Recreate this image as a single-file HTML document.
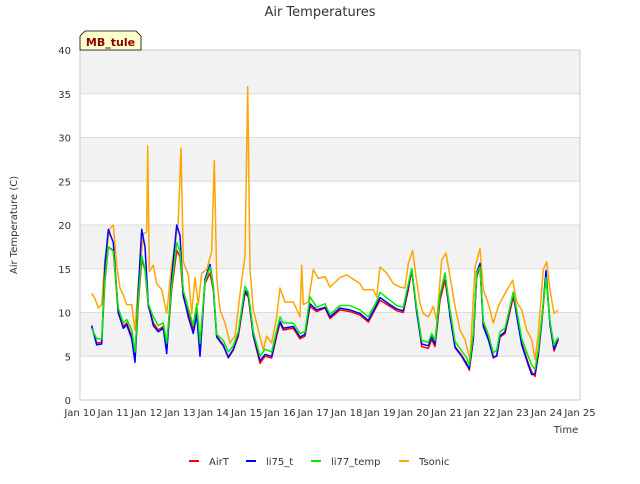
<!DOCTYPE html>
<html><head><meta charset="utf-8"><style>
body{margin:0;background:#fff;font-family:"DejaVu Sans","Liberation Sans",sans-serif}
svg text{font-family:"DejaVu Sans","Liberation Sans",sans-serif}
</style></head><body>
<svg id="chart" width="640" height="480" viewBox="0 0 640 480" xmlns="http://www.w3.org/2000/svg">
<rect width="640" height="480" fill="#fff"/>
<text x="320" y="16" text-anchor="middle" font-size="13" fill="#333">Air Temperatures</text>
<g id="bands"></g>
<g id="grid"></g>
<rect x="80" y="50" width="500" height="350" fill="none" stroke="#ccc" stroke-width="1"/>
<g id="series"></g>
<g id="axes"></g>
<text transform="translate(17,225) rotate(-90)" text-anchor="middle" font-size="10" fill="#333">Air Temperature (C)</text>
<text x="566" y="433" text-anchor="middle" font-size="10" fill="#333">Time</text>
<g>
<path d="M80,50 L80,36 L85,31 L136,31 L141,36 L141,50 Z" fill="#ffffcc" stroke="#000" stroke-width="0.8"/>
<text x="110.5" y="46" text-anchor="middle" font-size="11" font-weight="bold" fill="#8b0000">MB_tule</text>
</g>
<g id="legend"></g>
</svg>
<script>
const times = [0.35,0.5,0.65,0.75,0.85,1.0,1.15,1.3,1.4,1.55,1.65,1.75,1.85,1.95,2.05,2.2,2.35,2.5,2.6,2.75,2.9,3.0,3.1,3.25,3.4,3.5,3.6,3.75,3.9,4.0,4.1,4.3,4.45,4.6,4.75,4.95,5.05,5.2,5.4,5.55,5.75,5.9,6.0,6.1,6.4,6.6,6.75,6.9,7.1,7.35,7.5,7.8,8.1,8.4,8.65,8.9,9.0,9.3,9.5,9.7,9.85,9.95,10.1,10.25,10.45,10.55,10.65,10.8,10.95,11.1,11.25,11.45,11.6,11.68,11.8,11.9,12.0,12.1,12.25,12.4,12.5,12.6,12.75,13.0,13.1,13.25,13.45,13.55,13.65,13.75,13.85,13.98,14.1,14.22,14.35];
const airT = [8.4,6.5,6.6,13.7,17.5,17.1,9.9,8.4,8.8,7.3,4.6,11.0,16.0,14.9,10.7,8.8,8.0,8.4,5.7,12.6,17.1,16.4,11.8,9.9,8.0,10.3,5.3,13.3,14.5,12.6,7.3,6.3,4.8,5.7,7.3,12.2,11.8,7.3,4.2,5.0,4.8,7.3,8.8,8.0,8.2,7.0,7.3,10.7,10.1,10.5,9.3,10.3,10.1,9.7,8.9,10.7,11.4,10.7,10.2,10.0,12.6,14.8,10.3,6.1,5.9,6.9,6.1,11.4,13.7,9.9,6.1,5.1,4.2,3.4,6.9,14.1,15.2,8.6,7.1,4.8,5.1,7.2,7.6,11.8,9.9,6.5,4.2,3.2,2.7,5.1,8.8,14.1,8.8,5.6,6.9];
const li75 = [8.5,6.3,6.4,15.5,19.5,18.0,10.0,8.2,8.6,7.0,4.3,12.5,19.5,17.5,11.0,8.5,7.8,8.2,5.3,14.0,20.0,18.8,12.0,9.5,7.6,9.8,5.0,13.8,15.5,13.0,7.2,6.2,4.9,5.8,7.5,12.5,12.0,7.4,4.5,5.2,5.0,7.6,9.0,8.2,8.4,7.2,7.5,11.0,10.3,10.6,9.5,10.5,10.3,9.9,9.1,10.9,11.7,10.9,10.4,10.2,13.0,15.0,10.0,6.4,6.2,7.2,6.4,11.8,14.5,9.6,6.0,5.0,4.0,3.6,7.0,14.6,15.6,8.4,6.9,4.9,5.0,7.3,7.8,12.3,9.6,6.3,4.0,2.9,3.0,5.3,9.0,14.8,8.6,5.8,7.0];
const li77 = [8.2,7.0,7.0,14.0,17.5,17.0,10.5,8.8,9.2,8.0,5.5,11.5,16.5,15.0,11.0,9.5,8.5,8.8,6.5,13.0,18.0,17.0,12.5,10.5,8.5,11.0,6.5,13.5,15.2,13.0,7.5,6.8,5.5,6.2,7.8,13.0,12.3,7.8,5.0,5.8,5.5,8.0,9.5,8.8,8.8,7.6,7.8,11.8,10.6,11.0,9.8,10.8,10.8,10.3,9.5,11.3,12.3,11.4,10.8,10.6,13.3,15.0,10.5,6.8,6.6,7.6,6.8,12.0,14.5,10.3,6.7,5.6,4.8,4.0,7.6,14.5,15.2,9.0,7.5,5.4,5.7,7.8,8.2,12.3,10.3,7.0,5.0,4.0,3.5,5.8,9.3,14.0,9.0,6.3,7.2];
const tsTimes = [0.35,0.45,0.55,0.65,0.75,0.9,1.0,1.1,1.2,1.3,1.4,1.55,1.65,1.75,1.9,2.0,2.03,2.08,2.2,2.3,2.45,2.6,2.75,2.95,3.03,3.1,3.25,3.35,3.45,3.55,3.65,3.8,3.95,4.03,4.1,4.2,4.35,4.5,4.65,4.85,4.95,5.03,5.1,5.2,5.35,5.5,5.6,5.75,5.9,6.0,6.15,6.4,6.6,6.65,6.7,6.85,7.0,7.15,7.35,7.5,7.8,8.0,8.2,8.4,8.5,8.8,8.9,9.0,9.2,9.4,9.6,9.75,9.85,9.98,10.08,10.2,10.3,10.45,10.6,10.7,10.85,10.98,11.1,11.25,11.4,11.55,11.7,11.85,12.0,12.1,12.25,12.4,12.55,12.75,12.98,13.1,13.25,13.4,13.55,13.65,13.75,13.9,14.0,14.1,14.22,14.35];
const tsonic = [12.2,11.6,10.5,10.9,16.2,19.6,20.0,15.4,12.8,12.0,10.9,10.9,8.0,13.3,19.0,19.2,29.0,14.7,15.4,13.3,12.6,9.9,15.4,20.4,28.8,15.8,14.3,9.9,14.0,10.9,14.5,14.9,17.0,27.4,14.0,10.3,8.8,6.5,7.3,13.7,16.4,35.8,14.9,10.3,8.0,5.7,7.3,6.5,9.5,12.8,11.2,11.2,9.5,15.4,10.9,11.2,14.9,13.9,14.1,12.9,14.0,14.3,13.8,13.3,12.6,12.6,11.8,15.2,14.5,13.3,12.9,12.8,15.6,17.1,14.1,11.0,9.9,9.5,10.7,9.1,16.0,16.8,14.1,10.7,8.0,6.9,4.6,15.2,17.3,12.6,11.0,8.8,10.7,12.2,13.7,11.2,10.3,8.0,6.9,4.6,7.6,14.9,15.8,12.6,9.9,10.3];
const yTicks = [0,5,10,15,20,25,30,35,40];
const xTickLabels = ["Jan 10","Jan 11","Jan 12","Jan 13","Jan 14","Jan 15","Jan 16","Jan 17","Jan 18","Jan 19","Jan 20","Jan 21","Jan 22","Jan 23","Jan 24","Jan 25"];

const NS="http://www.w3.org/2000/svg";
const X0=80,X1=580,Y0=400,Y1=50,DAYS=15,YMAX=40;
function xs(t){return X0+(X1-X0)*t/DAYS;}
function ys(v){return Y0-(Y0-Y1)*v/YMAX;}
function mk(tag,attrs,parent){const e=document.createElementNS(NS,tag);for(const k in attrs)e.setAttribute(k,attrs[k]);parent.appendChild(e);return e;}
const bands=document.getElementById('bands'),grid=document.getElementById('grid'),axes=document.getElementById('axes'),series=document.getElementById('series'),legend=document.getElementById('legend');
for(let i=0;i<yTicks.length-1;i++){
  if(i%2===1){
    const r=mk('rect',{x:X0,y:ys(yTicks[i+1]),width:X1-X0,height:ys(yTicks[i])-ys(yTicks[i+1]),fill:'#f2f2f2'},bands);
    
    
  }
}
yTicks.forEach(v=>{
  const l=mk('line',{x1:X0,x2:X1,y1:ys(v),y2:ys(v),stroke:'#dcdcdc','stroke-width':1},grid);
  
  
  const t=mk('text',{x:X0-9,y:ys(v)+4,'text-anchor':'end','font-size':10,fill:'#333'},axes);
  t.textContent=v;
  
  
});
xTickLabels.forEach((s,i)=>{
  const t=mk('text',{x:xs(i),y:416,'text-anchor':'middle','font-size':10,fill:'#333'},axes);
  t.textContent=s;
  
  
});
function line(tt,vv,color,name){
  const n=Math.min(tt.length,vv.length);let d='';
  for(let i=0;i<n;i++)d+=(i?'L':'M')+xs(tt[i]).toFixed(1)+','+ys(vv[i]).toFixed(1);
  const p=mk('path',{d:d,fill:'none',stroke:color,'stroke-width':1.5,'stroke-linejoin':'round'},series);
  
  
}
line(tsTimes,tsonic,'#ffa500','tsonic-line');
line(times,airT,'#ff0000','airt-line');
line(times,li75,'#0000ff','li75-line');
line(times,li77,'#00ee00','li77-line');
const leg=[['AirT','#ff0000',189],['li75_t','#0000ff',246],['li77_temp','#00ee00',311],['Tsonic','#ffa500',399]];
leg.forEach(e=>{
  const g=mk('g',{},legend);
  
  
  mk('line',{x1:e[2],x2:e[2]+10,y1:461,y2:461,stroke:e[1],'stroke-width':2},g);
  const t=mk('text',{x:e[2]+20,y:465,'font-size':10,fill:'#333'},g);
  t.textContent=e[0];
});
</script>
</body></html>
